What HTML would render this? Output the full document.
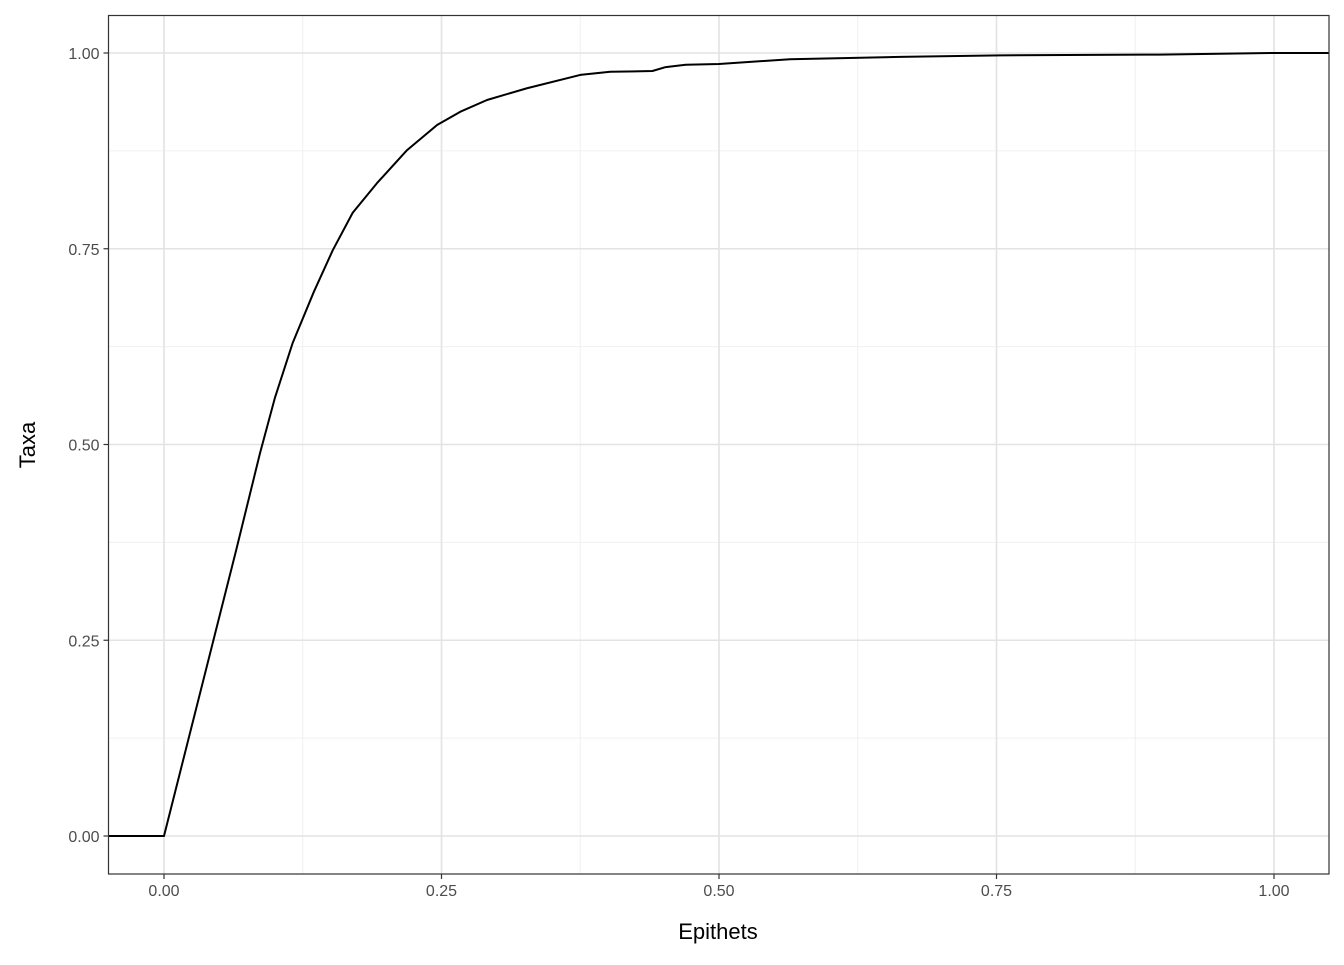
<!DOCTYPE html>
<html><head><meta charset="utf-8"><style>
body{margin:0;background:#fff;font-family:"Liberation Sans",sans-serif}
</style></head><body>
<svg id="chart" width="1344" height="960" xmlns="http://www.w3.org/2000/svg">
<g id="grid"></g>
<path id="curve" fill="none" stroke="#000" stroke-width="2" stroke-linejoin="round"/>
<rect x="108.5" y="15.5" width="1220.5" height="858.5" fill="none" stroke="#333" stroke-width="1.2"/>
<g id="ticks"></g>
<text x="718" y="939" text-anchor="middle" font-size="22" fill="#000">Epithets</text>
<text transform="translate(35,445) rotate(-90)" text-anchor="middle" font-size="22" fill="#000">Taxa</text>
</svg>
<script>
const xs=[-0.06,0,0.065,0.0865,0.1,0.116,0.135,0.152,0.17,0.192,0.219,0.246,0.267,0.291,0.327,0.375,0.402,0.44,0.452,0.47,0.50,0.564,0.663,0.753,0.897,1.0,1.06];
const ys=[0,0,0.365,0.489,0.56,0.630,0.695,0.748,0.796,0.834,0.876,0.908,0.925,0.940,0.955,0.972,0.976,0.977,0.982,0.985,0.986,0.992,0.995,0.997,0.998,1,1];
const tickVals=[0,0.25,0.5,0.75,1];
const tickLabels=["0.00","0.25","0.50","0.75","1.00"];
const minorVals=[0.125,0.375,0.625,0.875];
const L=108.5,R=1329,T=15.5,B=874;
const X=v=>164+v*1110, Y=v=>836-v*783;
const ns="http://www.w3.org/2000/svg";
const grid=document.getElementById('grid'),ticks=document.getElementById('ticks');
function line(p,x1,y1,x2,y2,c,w,name){const l=document.createElementNS(ns,'line');
l.setAttribute('x1',x1);l.setAttribute('y1',y1);l.setAttribute('x2',x2);l.setAttribute('y2',y2);
l.setAttribute('stroke',c);l.setAttribute('stroke-width',w);


p.appendChild(l);}
minorVals.forEach(v=>{line(grid,X(v),T,X(v),B,'#f0f0f0',1,'minor-gridline-x');line(grid,L,Y(v),R,Y(v),'#f0f0f0',1,'minor-gridline-y');});
tickVals.forEach((v,i)=>{
line(grid,X(v),T,X(v),B,'#e3e3e3',1.6,'major-gridline-x');line(grid,L,Y(v),R,Y(v),'#e3e3e3',1.6,'major-gridline-y');
line(ticks,X(v),B,X(v),B+5,'#333',1.2,'x-tick');line(ticks,L-5,Y(v),L,Y(v),'#333',1.2,'y-tick');
let t=document.createElementNS(ns,'text');t.setAttribute('x',X(v));t.setAttribute('y',B+22);t.setAttribute('text-anchor','middle');t.setAttribute('font-size','16');t.setAttribute('fill','#4d4d4d');t.textContent=tickLabels[i];


ticks.appendChild(t);
t=document.createElementNS(ns,'text');t.setAttribute('x',L-9);t.setAttribute('y',Y(v)+6);t.setAttribute('text-anchor','end');t.setAttribute('font-size','16');t.setAttribute('fill','#4d4d4d');t.textContent=tickLabels[i];


ticks.appendChild(t);});
let d='';xs.forEach((x,i)=>{const px=Math.max(L,Math.min(R,X(x)));d+=(i?'L':'M')+px+','+Y(ys[i]);});
document.getElementById('curve').setAttribute('d',d);
</script>
</body></html>
